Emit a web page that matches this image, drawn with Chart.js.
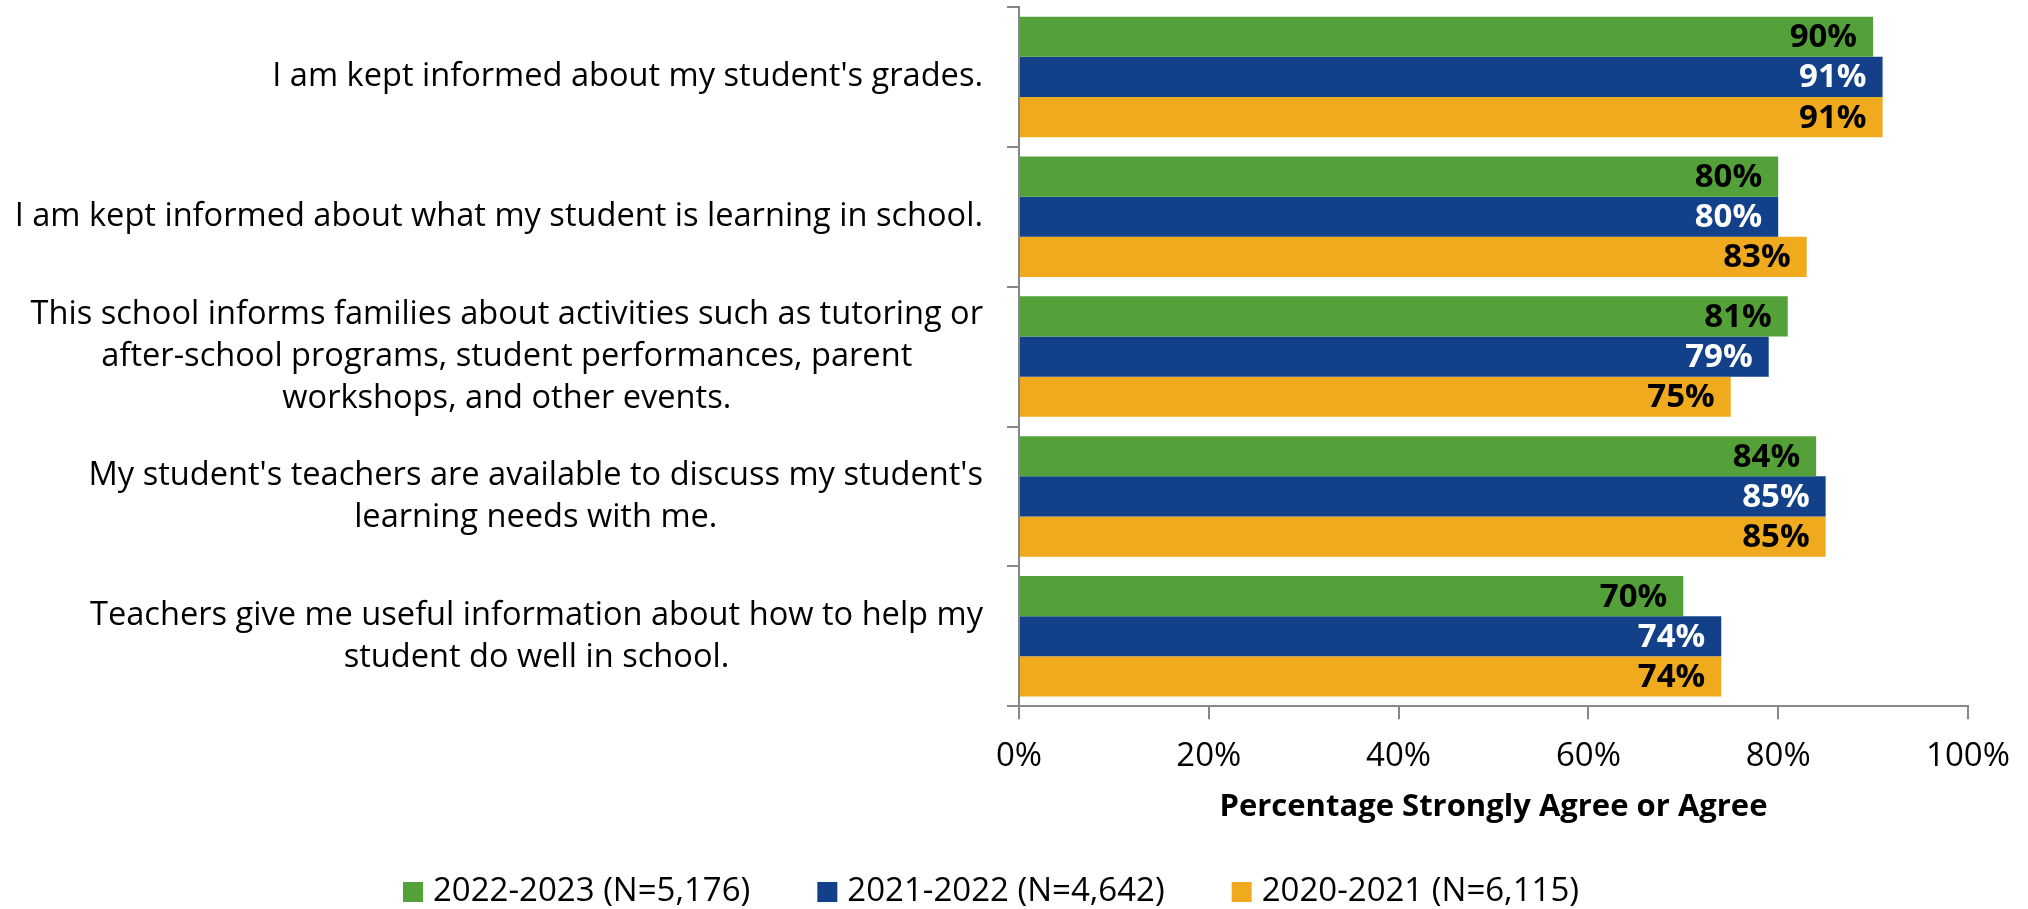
<!DOCTYPE html>
<html>
<head>
<meta charset="utf-8">
<script src="https://cdn.jsdelivr.net/npm/chart.js@4"></script>
<style>
  html, body { margin: 0; padding: 0; background: #fff; }
  #wrap { width: 2028px; height: 909px; }
</style>
</head>
<body>
<div id="wrap"><canvas id="grafico" width="2028" height="909"></canvas></div>
<script>
const preguntas = [
    ["I am kept informed about my student's grades."],
    ["I am kept informed about what my student is learning in school."],
    ["This school informs families about activities such as tutoring or",
     "after-school programs, student performances, parent",
     "workshops, and other events."],
    ["My student's teachers are available to discuss my student's",
     "learning needs with me."],
    ["Teachers give me useful information about how to help my",
     "student do well in school."]
];
const series = ["2022-2023 (N=5,176)", "2021-2022 (N=4,642)", "2020-2021 (N=6,115)"];
const valores2223 = [90, 80, 81, 84, 70];
const valores2122 = [91, 80, 79, 85, 74];
const valores2021 = [91, 83, 75, 85, 74];
const ticksX = [0, 20, 40, 60, 80, 100];

const colores = ['#53A138', '#12418A', '#F0AA1D'];
const coloresTexto = ['#000000', '#ffffff', '#000000'];
const FUENTE = "'Open Sans', sans-serif";
const GRIS = '#878787';

// etiquetas del eje Y: bloque alineado a la derecha, lineas centradas entre si
const etiquetasY = {
    id: 'etiquetasY',
    afterDraw(chart) {
        const ctx = chart.ctx;
        const y = chart.scales.y;
        const derecha = y.right - 36;
        ctx.save();
        ctx.font = `32.6px ${FUENTE}`;
        ctx.fillStyle = '#000';
        ctx.textAlign = 'center';
        ctx.textBaseline = 'middle';
        preguntas.forEach((lineas, i) => {
            const centro = y.getPixelForValue(i);
            const ancho = Math.max(...lineas.map(l => ctx.measureText(l).width));
            const cx = derecha - ancho / 2;
            const alto = 42;
            lineas.forEach((l, k) => {
                ctx.fillText(l, cx, centro + (k - (lineas.length - 1) / 2) * alto);
            });
        });
        ctx.restore();
    }
};

// valores dentro del extremo de cada barra
const valoresBarras = {
    id: 'valoresBarras',
    afterDatasetsDraw(chart) {
        const ctx = chart.ctx;
        ctx.save();
        ctx.font = `bold 33px ${FUENTE}`;
        ctx.textAlign = 'right';
        ctx.textBaseline = 'middle';
        chart.data.datasets.forEach((ds, d) => {
            const meta = chart.getDatasetMeta(d);
            ctx.fillStyle = coloresTexto[d];
            meta.data.forEach((bar, i) => {
                ctx.fillText(ds.data[i] + '%', bar.x - 16, bar.y + 1);
            });
        });
        ctx.restore();
    }
};

// leyenda propia abajo
const leyenda = {
    id: 'leyenda',
    afterDraw(chart) {
        const ctx = chart.ctx;
        ctx.save();
        ctx.font = `33px ${FUENTE}`;
        ctx.textBaseline = 'middle';
        ctx.fillStyle = '#000';
        const caja = 20, sep = 10, hueco = 67;
        const anchos = series.map(s => ctx.measureText(s).width);
        const total = anchos.reduce((a, b) => a + b, 0) + series.length * (caja + sep) + hueco * (series.length - 1);
        let x = 991 - total / 2;
        const yc = 892;
        series.forEach((s, i) => {
            ctx.fillStyle = colores[i];
            ctx.fillRect(x, yc - caja / 2, caja, caja);
            ctx.fillStyle = '#000';
            ctx.fillText(s, x + caja + sep, yc);
            x += caja + sep + anchos[i] + hueco;
        });
        ctx.restore();
    }
};

function crearDataset(label, data, color) {
    return {
        label,
        data,
        backgroundColor: color,
        borderWidth: 0,
        categoryPercentage: 0.862,
        barPercentage: 1
    };
}

new Chart(document.getElementById('grafico'), {
    type: 'bar',
    data: {
        labels: preguntas.map(p => p.join(' ')),
        datasets: [
            crearDataset(series[0], valores2223, colores[0]),
            crearDataset(series[1], valores2122, colores[1]),
            crearDataset(series[2], valores2021, colores[2])
        ]
    },
    options: {
        indexAxis: 'y',
        responsive: false,
        animation: false,
        layout: { padding: { top: 7, right: 60, bottom: 83, left: 0 } },
        scales: {
            x: {
                min: 0,
                max: 100,
                afterBuildTicks(scale) {
                    scale.ticks = ticksX.map(v => ({ value: v }));
                },
                grid: {
                    drawOnChartArea: false,
                    drawTicks: true,
                    tickLength: 13,
                    color: GRIS,
                    lineWidth: 2
                },
                border: { color: GRIS, width: 2 },
                ticks: {
                    color: '#000',
                    padding: 18,
                    font: { family: FUENTE, size: 33 },
                    callback: v => v + '%'
                },
                title: {
                    display: true,
                    text: 'Percentage Strongly Agree or Agree',
                    color: '#000',
                    font: { family: FUENTE, size: 31, weight: 'bold' },
                    padding: { top: -6, bottom: 0 }
                }
            },
            y: {
                afterFit(scale) { scale.width = 1019; },
                grid: {
                    drawOnChartArea: false,
                    drawTicks: true,
                    tickLength: 12,
                    color: GRIS,
                    lineWidth: 2
                },
                border: { color: GRIS, width: 2 },
                ticks: { display: false }
            }
        },
        plugins: {
            legend: { display: false },
            tooltip: { enabled: false }
        }
    },
    plugins: [etiquetasY, valoresBarras, leyenda]
});
</script>
</body>
</html>
